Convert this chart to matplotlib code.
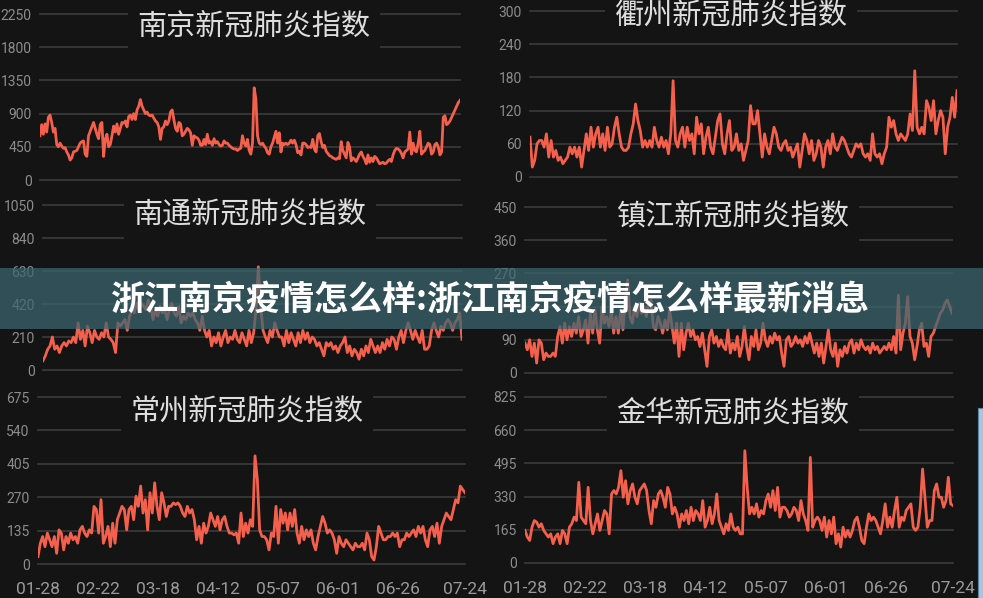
import matplotlib.pyplot as plt
import numpy as np
from matplotlib.patches import Rectangle

# canvas size in pixels
W, H = 983, 598
bg = '#141414'
line_c = '#f4604b'
grid_c = '#383838'

plt.rcParams['font.family'] = ['Roboto', 'Noto Sans CJK SC', 'DejaVu Sans']

# --- data (daily index, 01-28 .. 07-24) ---
date_labels = ['01-28', '02-22', '03-18', '04-12', '05-07', '06-01', '06-26', '07-24']
date_ticks = [0, 25, 50, 75, 100, 125, 150, 178]

nanjing = [600, 750, 620, 760, 650, 850, 880, 780, 650, 700, 480, 450, 500, 460, 430, 440, 380, 340, 270, 300,
           380, 390, 400, 450, 500, 520, 530, 350, 320, 600, 660, 720, 780, 700, 620, 560, 750, 780, 320, 550,
           620, 450, 480, 600, 730, 650, 760, 620, 700, 780, 770, 800, 720, 860, 880, 820, 900, 820, 950, 1000,
           1090, 1000, 950, 900, 920, 880, 870, 880, 840, 800, 780, 720, 550, 700, 720, 800, 750, 800, 920, 950,
           820, 700, 660, 780, 760, 600, 620, 660, 700, 680, 640, 470, 600, 580, 570, 540, 470, 470, 550, 480,
           620, 500, 520, 470, 560, 500, 520, 480, 460, 470, 530, 500, 500, 470, 450, 430, 420, 420, 400, 420,
           430, 600, 500, 460, 550, 400, 350, 500, 1250, 1100, 600, 500, 480, 500, 460, 430, 370, 350, 450, 500,
           580, 660, 500, 640, 380, 500, 480, 500, 480, 500, 540, 500, 540, 480, 370, 390, 340, 500, 500, 480,
           440, 450, 440, 550, 420, 380, 600, 630, 520, 440, 470, 390, 360, 330, 320, 300, 290, 280, 300, 290,
           520, 400, 350, 300, 510, 450, 260, 300, 280, 250, 300, 350, 380, 320, 280, 220, 340, 240, 300, 250,
           320, 300, 260, 220, 230, 240, 220, 230, 260, 280, 250, 340, 400, 430, 420, 400, 360, 300, 380, 400,
           420, 650, 350, 500, 400, 380, 500, 660, 350, 380, 400, 450, 500, 480, 350, 380, 480, 500, 450, 340,
           380, 850, 870, 750, 770, 800, 850, 900, 950, 1000, 1050, 1080]

quzhou = [72, 18, 30, 60, 66, 66, 54, 78, 36, 66, 36, 48, 30, 36, 24, 30, 36, 54, 42, 54, 36, 54, 18, 48, 78,
          48, 90, 54, 78, 90, 54, 78, 48, 90, 54, 60, 90, 108, 78, 54, 48, 48, 54, 78, 96, 132, 102, 84, 54, 66,
          54, 66, 54, 90, 66, 54, 72, 54, 66, 42, 78, 174, 66, 54, 78, 90, 54, 90, 66, 78, 42, 108, 78, 96, 42,
          72, 90, 54, 42, 72, 102, 114, 60, 42, 78, 102, 48, 54, 78, 48, 60, 30, 48, 66, 129, 96, 96, 120, 78, 36,
          78, 54, 42, 66, 90, 78, 54, 48, 60, 66, 48, 54, 36, 48, 60, 18, 48, 78, 66, 42, 66, 30, 42, 66, 54,
          18, 54, 66, 42, 78, 54, 48, 60, 72, 66, 54, 42, 36, 48, 60, 54, 60, 42, 36, 42, 30, 78, 42, 36, 42,
          24, 42, 54, 108, 90, 102, 78, 66, 78, 72, 66, 78, 114, 84, 192, 90, 78, 90, 78, 138, 126, 102, 138, 78, 102,
          120, 108, 42, 90, 108, 144, 108, 156]

nantong = [59, 90, 132, 153, 210, 132, 153, 111, 153, 174, 153, 185, 174, 210, 174, 300, 195, 252, 153, 279,
           237, 174, 252, 210, 195, 237, 210, 300, 210, 195, 174, 111, 300, 279, 300, 321, 252, 342, 384, 363,
           426, 384, 426, 405, 384, 447, 405, 321, 384, 342, 405, 363, 384, 321, 384, 426, 363, 342, 405, 300,
           342, 321, 363, 342, 363, 321, 300, 252, 342, 252, 210, 252, 153, 210, 174, 237, 153, 210, 252, 174,
           210, 195, 252, 195, 174, 237, 195, 153, 252, 174, 237, 384, 657, 405, 252, 210, 174, 252, 210, 300,
           252, 210, 210, 153, 252, 174, 237, 195, 153, 237, 174, 252, 195, 237, 174, 210, 195, 153, 174, 132,
           90, 174, 153, 174, 132, 153, 111, 153, 174, 210, 111, 153, 90, 132, 111, 69, 132, 90, 153, 111,
           195, 153, 111, 153, 111, 174, 132, 195, 153, 210, 195, 132, 210, 252, 174, 252, 300, 252, 195, 252,
           210, 174, 252, 132, 132, 153, 252, 300, 252, 210, 279, 252, 300, 321, 300, 252, 300, 321, 363, 195]

zhenjiang = [81, 63, 90, 45, 81, 27, 90, 81, 36, 54, 45, 45, 54, 45, 99, 126, 81, 135, 90, 126, 99, 135, 108,
             153, 99, 117, 144, 81, 162, 108, 171, 117, 81, 180, 135, 153, 126, 171, 108, 153, 108, 171, 117, 198,
             252, 153, 135, 180, 153, 189, 162, 180, 153, 189, 198, 126, 117, 153, 135, 108, 144, 117, 171, 126,
             81, 135, 45, 135, 63, 108, 135, 99, 117, 90, 99, 72, 108, 63, 18, 99, 117, 81, 99, 72, 90, 72, 63,
             117, 54, 81, 63, 99, 45, 72, 126, 72, 36, 99, 72, 117, 63, 81, 135, 90, 72, 99, 81, 108, 90, 99, 54,
             18, 90, 99, 72, 81, 99, 81, 90, 72, 99, 81, 108, 81, 54, 81, 45, 81, 27, 72, 117, 63, 45, 81, 18, 63,
             45, 72, 54, 81, 90, 54, 81, 63, 90, 72, 63, 72, 54, 81, 63, 72, 54, 63, 72, 63, 81, 63, 99, 54, 211,
             63, 108, 135, 207, 99, 81, 36, 72, 117, 135, 72, 81, 45, 99, 108, 126, 144, 162, 171, 189, 198, 180,
             162]

changzhou = [30, 84, 111, 70, 125, 98, 70, 111, 43, 138, 125, 57, 111, 84, 125, 98, 111, 84, 138, 152, 125, 111,
             138, 125, 233, 220, 125, 260, 84, 111, 152, 70, 165, 84, 179, 206, 233, 220, 138, 220, 233, 179, 274,
             233, 315, 206, 260, 138, 288, 206, 328, 233, 179, 288, 247, 192, 233, 233, 247, 240, 247, 233, 206,
             192, 233, 206, 220, 179, 98, 152, 84, 165, 125, 152, 206, 179, 152, 192, 138, 179, 192, 152, 125, 125,
             118, 125, 84, 206, 111, 165, 125, 179, 152, 437, 342, 138, 111, 111, 98, 57, 125, 111, 233, 84, 220,
             165, 206, 138, 206, 152, 220, 125, 84, 152, 98, 138, 111, 138, 84, 57, 111, 152, 192, 165, 125, 138,
             125, 98, 43, 111, 84, 70, 98, 84, 70, 57, 84, 70, 70, 84, 57, 125, 98, 30, 16, 70, 152, 125, 98, 98,
             111, 111, 125, 111, 125, 70, 98, 98, 125, 111, 125, 138, 111, 152, 125, 152, 98, 70, 138, 152, 111,
             165, 84, 152, 179, 206, 192, 179, 220, 260, 247, 315, 301, 288]

jinhua = [162, 129, 112, 178, 211, 203, 178, 195, 162, 145, 129, 145, 96, 129, 145, 96, 162, 145, 96, 178, 195,
          228, 211, 401, 228, 211, 195, 376, 211, 145, 195, 244, 162, 211, 261, 244, 145, 343, 360, 343, 376, 459,
          327, 409, 294, 360, 393, 327, 294, 360, 376, 393, 360, 261, 195, 310, 277, 343, 360, 327, 277, 376, 343,
          244, 277, 244, 178, 244, 211, 261, 195, 277, 211, 261, 244, 211, 310, 178, 211, 277, 195, 244, 343, 211,
          178, 145, 195, 162, 244, 178, 162, 178, 145, 145, 558, 376, 244, 277, 244, 294, 228, 261, 244, 310, 343,
          277, 360, 261, 376, 228, 277, 277, 261, 228, 244, 277, 261, 211, 310, 244, 211, 162, 525, 178, 211, 228,
          211, 162, 228, 129, 211, 145, 228, 96, 145, 79, 178, 129, 162, 129, 162, 211, 228, 178, 112, 96, 178,
          244, 211, 228, 211, 178, 145, 211, 294, 178, 228, 178, 261, 327, 178, 228, 211, 261, 277, 294, 178, 162,
          178, 277, 467, 327, 178, 211, 211, 360, 393, 327, 327, 277, 310, 426, 294, 285]

# title, values, y max, plot box in px (x0, x1, ytop, ybottom), title centre in px, show dates
panels = [
    ('南京新冠肺炎指数', nanjing, 2250, (40, 460, 14, 180), (254, 27), False),
    ('衢州新冠肺炎指数', quzhou, 300, (530, 957, 11, 177), (731, 16), False),
    ('南通新冠肺炎指数', nantong, 1050, (43, 462, 205, 370), (250, 215), False),
    ('镇江新冠肺炎指数', zhenjiang, 450, (525, 952, 207, 373), (733, 217), False),
    ('常州新冠肺炎指数', changzhou, 675, (38, 465, 397, 564), (247, 412), True),
    ('金华新冠肺炎指数', jinhua, 825, (525, 953, 397, 563), (733, 414), True),
]

fig = plt.figure(figsize=(W / 100, H / 100), dpi=100, facecolor=bg)

for title, vals, ymax, (x0, x1, yt, yb), (tx, ty), show_dates in panels:
    ax = fig.add_axes([x0 / W, 1 - yb / H, (x1 - x0) / W, (yb - yt) / H])
    ax.patch.set_alpha(0)
    days = np.linspace(0, 178, len(vals))
    ax.plot(days, vals, color=line_c, lw=2.0, solid_joinstyle='round', zorder=3)
    ax.set_xlim(0, 178)
    ax.set_ylim(0, ymax)
    ticks = np.linspace(0, ymax, 6)
    for t in ticks:
        ax.axhline(t, color=grid_c, lw=1.3, zorder=1, clip_on=False)
    labels = [f'{int(t)}' for t in ticks]
    # the 180 label of 镇江 sits right under the banner text, hidden in the picture
    if title.startswith('镇江'):
        labels[2] = ''
    ax.set_yticks(ticks)
    ax.set_yticklabels(labels)
    ax.tick_params(axis='y', length=0, pad=6, labelsize=10, labelcolor='#8c8c8c')
    for s in ax.spines.values():
        s.set_visible(False)
    if show_dates:
        ax.set_xticks(date_ticks)
        ax.set_xticklabels(date_labels)
        ax.tick_params(axis='x', length=0, pad=13, labelsize=12.5, labelcolor='#9a9a9a')
    else:
        ax.set_xticks([])
    fig.text(tx / W, 1 - ty / H, title, ha='center', va='center', fontsize=21, color='#dedede',
             family=['Noto Sans CJK SC'], fontweight='medium', zorder=5,
             bbox=dict(facecolor=bg, edgecolor='none', pad=7))

# overlay banner across the middle
fig.add_artist(Rectangle((0, 1 - 329 / H), 1, 61 / H, transform=fig.transFigure,
                         facecolor='#3b6670', edgecolor='none', alpha=0.72, zorder=10))
fig.text(490 / W, 1 - 299 / H, '浙江南京疫情怎么样:浙江南京疫情怎么样最新消息', ha='center', va='center',
         fontsize=24.5, fontweight='bold', color='white', family=['Noto Sans CJK SC', 'DejaVu Sans'], zorder=11)

# light strip at the lower right edge
fig.add_artist(Rectangle((978 / W, 0), 5 / W, 190 / H, transform=fig.transFigure,
                         facecolor='#a9c6dc', edgecolor='#5d82a3', lw=0.8, zorder=10))

fig.savefig('out.png', dpi=100, facecolor=bg)
